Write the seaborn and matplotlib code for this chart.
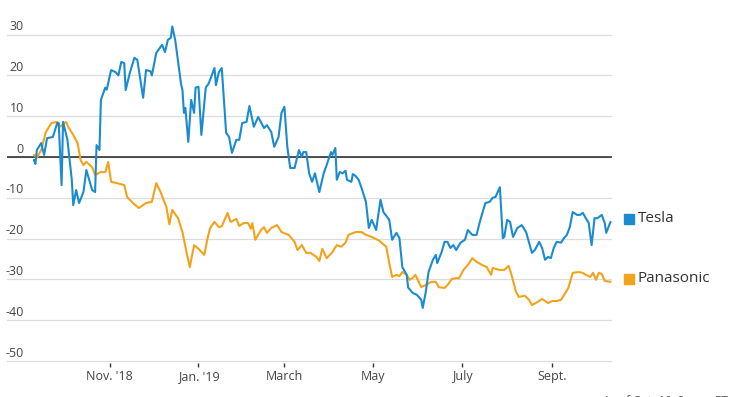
import pandas as pd
import matplotlib.pyplot as plt
from matplotlib.transforms import offset_copy
import seaborn as sns

# percent change since start
tesla_dates = [
    "2018-09-10", "2018-09-11", "2018-09-12", "2018-09-15", "2018-09-17", "2018-09-19", "2018-09-23", "2018-09-26",
    "2018-09-27", "2018-09-29", "2018-09-30", "2018-10-03", "2018-10-06", "2018-10-07", "2018-10-09", "2018-10-11",
    "2018-10-14", "2018-10-16", "2018-10-20", "2018-10-22", "2018-10-23", "2018-10-25", "2018-10-26", "2018-10-29",
    "2018-10-30", "2018-11-02", "2018-11-05", "2018-11-07", "2018-11-09", "2018-11-11", "2018-11-12", "2018-11-15",
    "2018-11-18", "2018-11-20", "2018-11-24", "2018-11-26", "2018-11-29", "2018-11-30", "2018-12-03", "2018-12-07",
    "2018-12-09", "2018-12-11", "2018-12-13", "2018-12-14", "2018-12-16", "2018-12-20", "2018-12-21", "2018-12-22",
    "2018-12-23", "2018-12-25", "2018-12-27", "2018-12-29", "2018-12-30", "2019-01-01", "2019-01-03", "2019-01-06",
    "2019-01-08", "2019-01-12", "2019-01-13", "2019-01-15", "2019-01-17", "2019-01-20", "2019-01-22", "2019-01-24",
    "2019-01-27", "2019-01-29", "2019-01-31", "2019-02-03", "2019-02-05", "2019-02-08", "2019-02-11", "2019-02-15",
    "2019-02-17", "2019-02-20", "2019-02-22", "2019-02-25", "2019-02-27", "2019-03-01", "2019-03-03", "2019-03-05",
    "2019-03-08", "2019-03-11", "2019-03-13", "2019-03-14", "2019-03-16", "2019-03-18", "2019-03-20", "2019-03-22",
    "2019-03-25", "2019-03-28", "2019-03-30", "2019-04-02", "2019-04-03", "2019-04-05", "2019-04-06", "2019-04-08",
    "2019-04-10", "2019-04-12", "2019-04-13", "2019-04-16", "2019-04-17", "2019-04-19", "2019-04-21", "2019-04-23",
    "2019-04-26", "2019-04-28", "2019-04-30", "2019-05-03", "2019-05-06", "2019-05-08", "2019-05-12", "2019-05-14",
    "2019-05-17", "2019-05-19", "2019-05-21", "2019-05-24", "2019-05-25", "2019-05-28", "2019-05-31", "2019-06-03",
    "2019-06-04", "2019-06-06", "2019-06-08", "2019-06-11", "2019-06-13", "2019-06-14", "2019-06-17", "2019-06-19",
    "2019-06-21", "2019-06-23", "2019-06-25", "2019-06-27", "2019-06-30", "2019-07-03", "2019-07-05", "2019-07-08",
    "2019-07-11", "2019-07-13", "2019-07-15", "2019-07-17", "2019-07-20", "2019-07-22", "2019-07-24", "2019-07-27",
    "2019-07-29", "2019-07-30", "2019-08-01", "2019-08-03", "2019-08-05", "2019-08-08", "2019-08-11", "2019-08-14",
    "2019-08-18", "2019-08-20", "2019-08-23", "2019-08-25", "2019-08-27", "2019-08-29", "2019-08-31", "2019-09-02",
    "2019-09-04", "2019-09-07", "2019-09-09", "2019-09-11", "2019-09-13", "2019-09-15", "2019-09-18", "2019-09-20",
    "2019-09-22", "2019-09-24", "2019-09-26", "2019-09-28", "2019-09-30", "2019-10-02", "2019-10-05", "2019-10-07",
    "2019-10-08", "2019-10-11",
]
tesla_pct = [
    -0.7, -1.7, 1.7, 3.4, 0.5, 4.6, 4.9, 8.3,
    8.3, -6.9, 8.6, 4.2, -5.6, -11.8, -8.1, -11.3,
    -8.6, -3.2, -8.1, -8.6, 2.9, 1.7, 14, 17,
    16.5, 21.3, 20.8, 20, 23.3, 23, 16.4, 20.8,
    24.3, 23.8, 14.5, 21.3, 21, 20, 25.5, 27.5,
    25.7, 28.7, 29.2, 32, 28.7, 18, 16.4, 10.8,
    12, 3.7, 14, 10.8, 17, 17.2, 5.4, 17,
    18, 21.8, 17.6, 20.8, 21.8, 5.9, 4.9, 1,
    4.2, 4.2, 8.3, 8.6, 12.5, 7.4, 9.8, 7.1,
    7.8, 6.1, 2.5, 4.9, 10.8, 12.3, 2.5, -2.7,
    -2.7, 1.7, 0, 1.2, 1.2, -4, -6.1, -4,
    -8.6, -4, -2, 1.2, 0.5, 2.2, -5.6, -3.7,
    -4, -3.4, -5.6, -6.1, -4.2, -4.7, -5.6, -7.6,
    -11, -17.4, -15.4, -17.9, -10.5, -13.5, -15.4, -20.3,
    -18.6, -19.9, -27, -28.9, -32, -33.3, -33.8, -35,
    -37, -33.3, -28.2, -25.2, -24, -26, -23.3, -20.8,
    -20.8, -22.3, -21.6, -22.8, -21, -20.3, -17.9, -19.1,
    -19.1, -16.2, -13.7, -11.3, -11, -10, -9.8, -7.4,
    -19.9, -19.6, -15.4, -15.9, -19.6, -17.4, -16.7, -18.4,
    -23.5, -22.8, -20.8, -22.3, -25.2, -24.5, -24.8, -22.3,
    -20.8, -21, -19.9, -19.1, -17.2, -13.5, -14.2, -14.2,
    -13.7, -15, -16.2, -21.6, -15, -15, -14.2, -16.2,
    -18.6, -15.9,
]

panasonic_dates = [
    "2018-09-10", "2018-09-12", "2018-09-15", "2018-09-18", "2018-09-19", "2018-09-22", "2018-09-26", "2018-09-28",
    "2018-10-02", "2018-10-04", "2018-10-07", "2018-10-10", "2018-10-12", "2018-10-14", "2018-10-16", "2018-10-20",
    "2018-10-22", "2018-10-26", "2018-10-29", "2018-10-31", "2018-11-02", "2018-11-06", "2018-11-11", "2018-11-13",
    "2018-11-17", "2018-11-21", "2018-11-26", "2018-11-30", "2018-12-03", "2018-12-06", "2018-12-10", "2018-12-12",
    "2018-12-14", "2018-12-18", "2018-12-21", "2018-12-23", "2018-12-26", "2018-12-29", "2019-01-01", "2019-01-05",
    "2019-01-07", "2019-01-09", "2019-01-12", "2019-01-15", "2019-01-17", "2019-01-21", "2019-01-23", "2019-01-27",
    "2019-01-29", "2019-02-01", "2019-02-04", "2019-02-06", "2019-02-07", "2019-02-09", "2019-02-13", "2019-02-15",
    "2019-02-17", "2019-02-20", "2019-02-24", "2019-02-27", "2019-03-04", "2019-03-08", "2019-03-10", "2019-03-13",
    "2019-03-16", "2019-03-19", "2019-03-23", "2019-03-25", "2019-03-27", "2019-03-30", "2019-04-03", "2019-04-06",
    "2019-04-09", "2019-04-12", "2019-04-14", "2019-04-19", "2019-04-23", "2019-04-26", "2019-04-30", "2019-05-05",
    "2019-05-10", "2019-05-12", "2019-05-14", "2019-05-17", "2019-05-19", "2019-05-21", "2019-05-24", "2019-05-26",
    "2019-05-28", "2019-05-30", "2019-06-03", "2019-06-06", "2019-06-10", "2019-06-13", "2019-06-15", "2019-06-19",
    "2019-06-21", "2019-06-24", "2019-06-27", "2019-06-29", "2019-07-02", "2019-07-06", "2019-07-08", "2019-07-11",
    "2019-07-15", "2019-07-18", "2019-07-21", "2019-07-22", "2019-07-27", "2019-07-30", "2019-08-02", "2019-08-04",
    "2019-08-07", "2019-08-09", "2019-08-13", "2019-08-16", "2019-08-18", "2019-08-22", "2019-08-25", "2019-08-29",
    "2019-09-01", "2019-09-04", "2019-09-07", "2019-09-10", "2019-09-12", "2019-09-15", "2019-09-19", "2019-09-22",
    "2019-09-24", "2019-09-27", "2019-09-29", "2019-10-01", "2019-10-03", "2019-10-05", "2019-10-07", "2019-10-11",
]
panasonic_pct = [
    0.5, -0.2, 1.7, 5.9, 6.6, 8.3, 8.6, 7.4,
    8.6, 7.1, 5.4, 3.4, -0.7, -2, -1.2, -2.5,
    -4.4, -3.7, -3.7, -1.2, -6.1, -6.4, -6.9, -9.8,
    -11.3, -12.5, -11.3, -11, -6.4, -8.6, -12.3, -16.5,
    -13, -15, -18.4, -22, -27, -21.6, -22.5, -24,
    -20.3, -17.4, -15.9, -17.2, -17, -13.7, -15.9, -15.2,
    -16.9, -16.2, -16.2, -17.6, -16.2, -20.3, -17.9, -17.2,
    -18.6, -17.4, -16.7, -18.4, -19.1, -20.8, -22.8, -21.6,
    -23.5, -23.5, -24.5, -25.5, -22.5, -24.8, -23.3, -21.6,
    -22, -21, -19.1, -18.4, -18.4, -19.1, -19.6, -20.5,
    -22, -26, -29.4, -28.9, -29.2, -28.2, -28.9, -30.1,
    -29.7, -28.9, -31.9, -31.4, -30.6, -30.6, -31.9, -32.1,
    -31.4, -29.9, -29.7, -29.7, -27.7, -26, -24.8, -25.7,
    -26.5, -27, -28.9, -27.2, -27.7, -27.7, -26.7, -28.9,
    -33, -34.3, -34, -35, -36.3, -35.5, -34.8, -35.8,
    -35.3, -35.3, -35, -33.3, -32.1, -28.4, -28.2, -28.4,
    -28.9, -29.4, -28.4, -30.1, -28.4, -28.7, -30.4, -30.6,
]

tick_dates = ["2018-11-01", "2019-01-01", "2019-03-01", "2019-05-01", "2019-07-01", "2019-09-01"]
tick_labels = ["Nov. '18", "Jan. '19", "March", "May", "July", "Sept."]
y_ticks = [-50, -40, -30, -20, -10, 0, 10, 20, 30]
note = "As of Oct. 10, 3 p.m. ET"

tesla = pd.DataFrame({"date": pd.to_datetime(tesla_dates), "pct": tesla_pct})
panasonic = pd.DataFrame({"date": pd.to_datetime(panasonic_dates), "pct": panasonic_pct})

sns.set_theme(style="white")
plt.rcParams['font.family'] = ['Open Sans', 'DejaVu Sans']

BLUE = "#1b8bd0"
ORANGE = "#f2a31b"

fig = plt.figure(figsize=(7.44, 3.97), dpi=100)
ax = fig.add_axes([0.0094, 0.0856, 0.8132, 0.8633])

ax.axhline(0, color="#222222", lw=1.1, zorder=1)
sns.lineplot(data=panasonic, x="date", y="pct", color=ORANGE, lw=1.5, ax=ax, zorder=3)
sns.lineplot(data=tesla, x="date", y="pct", color=BLUE, lw=1.5, ax=ax, zorder=4)

ax.set_xlim(pd.Timestamp("2018-08-22 12:00"), pd.Timestamp("2019-10-12"))
ax.set_ylim(-50.5, 33.5)
ax.set_xlabel("")
ax.set_ylabel("")
for s in ax.spines.values():
    s.set_visible(False)

ax.set_yticks(y_ticks)
ax.yaxis.grid(True, color="#dcdcdc", lw=0.9)
ax.xaxis.grid(False)
ax.tick_params(axis="y", left=False, labelleft=False)
for v in y_ticks:
    ax.annotate(str(v), xy=(0.028, v), xycoords=("axes fraction", "data"),
                xytext=(0, 1), textcoords="offset points",
                ha="right", va="bottom", fontsize=9, color="#444444")

ax.set_xticks(pd.to_datetime(tick_dates))
ax.set_xticklabels(tick_labels)
ax.tick_params(axis="x", bottom=True, length=3, width=1, color="#333333",
               labelsize=9, labelcolor="#444444", pad=2, direction="out")

# end-of-line labels
for name, df, color in [("Tesla", tesla, BLUE), ("Panasonic", panasonic, ORANGE)]:
    last = df.iloc[-1]
    tr = offset_copy(ax.transData, fig=fig, x=13, y=2.2, units="points")
    ax.plot([last["date"]], [last["pct"]], marker="s", ms=7.2, color=color,
            transform=tr, clip_on=False, lw=0)
    ax.annotate(name, xy=(last["date"], last["pct"]), xytext=(19.5, 2.2),
                textcoords="offset points", ha="left", va="center",
                fontsize=11, color="#333333", annotation_clip=False)

# the source note sits at the very bottom edge, mostly cut off as in the original
fig.text(603 / 744, 0.005, note, ha="left", va="top", fontsize=8.5, color="#555555")

fig.savefig("out.png", dpi=100)
